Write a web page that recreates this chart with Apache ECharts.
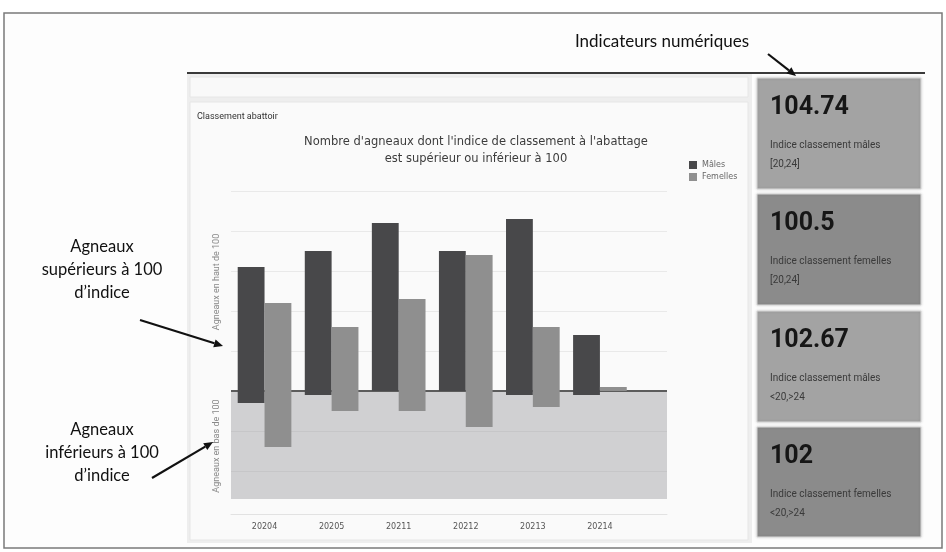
<!DOCTYPE html>
<html><head><meta charset="utf-8">
<script src="https://cdn.jsdelivr.net/npm/echarts@6/dist/echarts.min.js"></script>
<style>html,body{margin:0;padding:0;background:#fff}#c{width:946px;height:552px}</style>
</head><body><div id="c"></div>
<script>
// ---- data ----
const categories = ['20204','20205','20211','20212','20213','20214'];
const malesAbove = [31, 35, 42, 35, 43, 14];
const malesBelow = [-3, -1, 0, 0, -1, -1];
const femalesAbove = [22, 16, 23, 34, 16, 1];
const femalesBelow = [-14, -5, -5, -9, -4, 0];
const yTicks = { min: -30, max: 50, interval: 10 };
const shadedFloor = -27;
const kpiValues = ['104.74', '100.5', '102.67', '102'];
const kpiLabels = ['Indice classement mâles', 'Indice classement femelles', 'Indice classement mâles', 'Indice classement femelles'];
const kpiRanges = ['[20,24]', '[20,24]', '<20,>24', '<20,>24'];

const MALE = '#48484a', FEMALE = '#8f8f8f';
const pts = arr => arr.map((v, i) => [i + 0.5, v]);

const chart = echarts.init(document.getElementById('c'));

function arrow(x1, y1, x2, y2) {
  const a = Math.atan2(y2 - y1, x2 - x1), L = 9, W = 4;
  const bx = x2 - L * Math.cos(a), by = y2 - L * Math.sin(a);
  return [
    { type: 'line', z: 100, shape: { x1, y1, x2: bx, y2: by }, style: { stroke: '#111', lineWidth: 2.2 } },
    { type: 'polygon', z: 100, shape: { points: [[x2, y2], [bx + W * Math.sin(a), by - W * Math.cos(a)], [bx - W * Math.sin(a), by + W * Math.cos(a)]] }, style: { fill: '#111' } }
  ];
}

const g = [];
// outer frame
g.push({ type: 'rect', z: -20, shape: { x: 4, y: 13, width: 938, height: 535 }, style: { fill: '#fdfdfd', stroke: '#7a7a7a', lineWidth: 1.5 } });
// dashboard area
g.push({ type: 'rect', z: -19, shape: { x: 187, y: 74, width: 565, height: 469 }, style: { fill: '#eeeeee' } });
g.push({ type: 'rect', z: -18, shape: { x: 190, y: 77, width: 558, height: 20 }, style: { fill: '#f9f9f9', stroke: '#e6e6e6', lineWidth: 1 } });
g.push({ type: 'rect', z: -18, shape: { x: 190, y: 102, width: 558, height: 438 }, style: { fill: '#fafafa', stroke: '#e6e6e6', lineWidth: 1 } });
g.push({ type: 'line', z: 50, shape: { x1: 187, y1: 73, x2: 925, y2: 73 }, style: { stroke: '#3a3a3a', lineWidth: 2 } });
g.push({ type: 'text', z: 50, x: 197, y: 117, style: { text: 'Classement abattoir', fontSize: 9, fill: '#333', fontFamily: 'Roboto', verticalAlign: 'middle' } });
// y axis titles
g.push({ type: 'text', z: 50, x: 217, y: 282, rotation: Math.PI / 2, style: { text: 'Agneaux en haut de 100', fontSize: 9, fill: '#888', fontFamily: 'Roboto', align: 'center', verticalAlign: 'middle' } });
g.push({ type: 'text', z: 50, x: 217, y: 446, rotation: Math.PI / 2, style: { text: 'Agneaux en bas de 100', fontSize: 9, fill: '#888', fontFamily: 'Roboto', align: 'center', verticalAlign: 'middle' } });
// KPI cards
const cardY = [78, 194, 311, 427], cardH = [111, 111, 111, 110];
cardY.forEach((y, i) => {
  g.push({ type: 'rect', z: -15, shape: { x: 757, y: y, width: 164, height: cardH[i] }, style: { fill: i % 2 ? '#8b8b8b' : '#a3a3a3', stroke: '#d8d8d8', lineWidth: 1, shadowBlur: 3, shadowColor: 'rgba(0,0,0,0.15)' } });
  g.push({ type: 'text', z: 60, x: 770, y: y + 30, style: { text: kpiValues[i], fontSize: 25, fontWeight: 'bold', fill: '#161616', fontFamily: 'Roboto', verticalAlign: 'middle' } });
  g.push({ type: 'text', z: 60, x: 770, y: y + 67, style: { text: kpiLabels[i], fontSize: 10, fill: '#3a3a3a', fontFamily: 'Roboto', verticalAlign: 'middle' } });
  g.push({ type: 'text', z: 60, x: 770, y: y + 86, style: { text: kpiRanges[i], fontSize: 10, fill: '#3a3a3a', fontFamily: 'Roboto', verticalAlign: 'middle' } });
});
// annotations
g.push({ type: 'text', z: 100, x: 662, y: 42, style: { text: 'Indicateurs numériques', fontSize: 17, fill: '#111', fontFamily: 'Lato', align: 'center', verticalAlign: 'middle' } });
arrow(768, 54, 796, 76).forEach(e => g.push(e));
const ann1 = ['Agneaux', 'supérieurs à 100', 'd’indice'];
const ann2 = ['Agneaux', 'inférieurs à 100', 'd’indice'];
ann1.forEach((t, i) => g.push({ type: 'text', z: 100, x: 102, y: 247 + i * 23, style: { text: t, fontSize: 16.5, fill: '#111', fontFamily: 'Lato', align: 'center', verticalAlign: 'middle' } }));
ann2.forEach((t, i) => g.push({ type: 'text', z: 100, x: 102, y: 430 + i * 23, style: { text: t, fontSize: 16.5, fill: '#111', fontFamily: 'Lato', align: 'center', verticalAlign: 'middle' } }));
arrow(140, 320, 223, 346).forEach(e => g.push(e));
arrow(152, 478, 213, 442).forEach(e => g.push(e));

chart.setOption({
  animation: false,
  backgroundColor: '#ffffff',
  title: {
    text: "Nombre d'agneaux dont l'indice de classement à l'abattage\nest supérieur ou inférieur à 100",
    left: 471, top: 129, textAlign: 'center',
    textStyle: { fontFamily: 'DejaVu Sans', fontSize: 11.5, fontWeight: 'normal', color: '#3c3c3c', lineHeight: 17 }
  },
  legend: {
    data: ['Mâles', 'Femelles'], orient: 'vertical', left: 684, top: 156,
    icon: 'rect', itemWidth: 8, itemHeight: 8, itemGap: 4,
    textStyle: { fontSize: 8, color: '#666', fontFamily: 'DejaVu Sans' }
  },
  graphic: { elements: g },
  grid: { left: 231, top: 191, width: 436, height: 320 },
  xAxis: {
    type: 'value', min: 0, max: 6.5,
    axisLine: { onZero: false, lineStyle: { color: '#e2e2e2' } },
    offset: 3,
    axisTick: { show: false }, splitLine: { show: false },
    axisLabel: {
      customValues: categories.map((c, i) => i + 0.5),
      formatter: v => categories[Math.round(v - 0.5)] || '',
      fontSize: 8, color: '#555', fontFamily: 'DejaVu Sans', margin: 9
    }
  },
  yAxis: {
    type: 'value', min: yTicks.min, max: yTicks.max, interval: yTicks.interval,
    axisLine: { show: false }, axisTick: { show: false }, axisLabel: { show: false },
    splitLine: { showMinLine: false, lineStyle: { color: '#e9e9e9', width: 1 } }
  },
  series: [
    { name: 'Mâles', type: 'bar', stack: 'm', data: pts(malesAbove), itemStyle: { color: MALE }, barGap: 0, barCategoryGap: '20%', z: 5,
      markArea: { silent: true, itemStyle: { color: 'rgba(150,150,156,0.42)' }, data: [[{ yAxis: 0 }, { yAxis: shadedFloor }]] },
      markLine: { silent: true, symbol: 'none', label: { show: false }, lineStyle: { color: '#5c5c5c', width: 2, type: 'solid' }, data: [{ yAxis: 0 }] } },
    { name: 'Mâles', type: 'bar', stack: 'm', data: pts(malesBelow), itemStyle: { color: MALE }, z: 5 },
    { name: 'Femelles', type: 'bar', stack: 'f', data: pts(femalesAbove), itemStyle: { color: FEMALE }, z: 5 },
    { name: 'Femelles', type: 'bar', stack: 'f', data: pts(femalesBelow), itemStyle: { color: FEMALE }, z: 5 }
  ]
});
</script></body></html>
